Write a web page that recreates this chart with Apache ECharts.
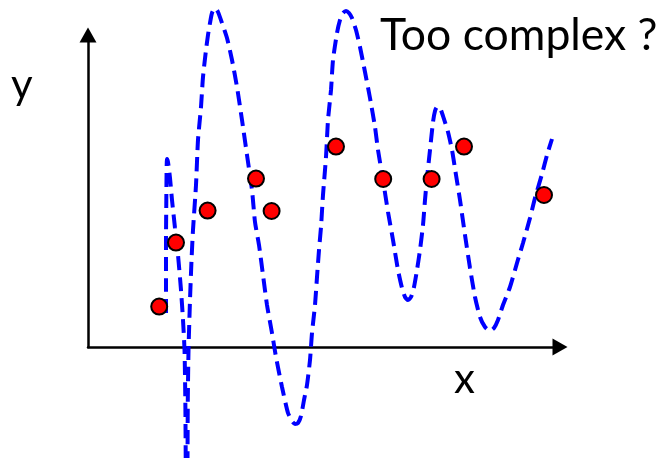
<!DOCTYPE html>
<html>
<head>
<meta charset="utf-8">
<script src="https://cdn.jsdelivr.net/npm/echarts@6/dist/echarts.min.js"></script>
<style>
  html, body { margin: 0; padding: 0; background: #fff; }
  #chart { width: 661px; height: 458px; }
</style>
</head>
<body>
<div id="chart"></div>
<script>
// datos (unidades arbitrarias)
var puntosX = [17.8, 22, 29.9, 42, 45.9, 62, 73.8, 85.9, 94, 114];
var puntosY = [10.1, 26.1, 34.1, 42.1, 34, 50.1, 42, 42, 50.1, 38];

// curva sobreajustada
var curvaX = [19.5, 19.5, 19.5, 19.58, 19.65, 19.75, 20, 20.5, 21, 21.75, 22.5, 23.25, 23.75, 24.13, 24.33, 24.43, 24.5, 24.65,
  24.8, 24.88, 24.95, 25.13, 25.5, 25.88, 26.25, 27, 27.5, 28.25, 28.75, 29.5, 30, 30.5, 31, 31.75, 32.5, 33.5, 34.75,
  36, 37.25, 38.5, 39.75, 41, 41.75, 42.75, 43.75, 44.75, 46, 47, 48.5, 50, 51, 51.75, 52.5, 53.25, 54, 54.75, 55.5,
  56, 56.75, 57.25, 57.75, 58.25, 58.75, 59.5, 60, 60.75, 61.25, 62.25, 63, 63.75, 64.5, 65.25, 66, 67, 68, 69.25,
  70.5, 71.75, 72.5, 73.75, 75, 76.25, 77.5, 78.5, 79.25, 80, 80.75, 81.5, 82.25, 83, 83.75, 84.25, 84.75, 85.5,
  86.25, 86.75, 87.25, 88, 88.75, 90, 91, 92, 93, 94.25, 95.5, 96.75, 98, 99.25, 100.5, 101.5, 102.5, 103.75, 105.5,
  107.25, 108.75, 110.5, 111.75, 113.5, 114.75, 116];
var curvaY = [8.5, 16.75, 26.75, 36.75, 44.25, 47, 46.25, 42.25, 36.75, 29.75, 23, 14.25, 6.75, -0.75, -13.25, -28.25, -43.25, -53.25,
  -43.25, -28.25, -13.25, -0.75, 11.75, 21.75, 29.25, 40.5, 51.75, 60, 67.5, 74.25, 78, 81, 83.5, 84.75, 83.75, 81, 77.25,
  71.75, 65, 56.75, 48, 39.25, 31.25, 25.5, 18, 10.5, 3.5, -2.5, -10, -16.5, -18.5, -19.25, -19, -17.25, -13.25, -9.5, -3.25,
  3.5, 10.5, 17.5, 24.25, 30, 38, 47.5, 56.75, 64.25, 71.75, 78.5, 81.75, 83.5, 84, 83.5, 82.25, 79.25, 75, 68.75,
  62.25, 55, 49.25, 41.75, 33.75, 26.75, 19.25, 14.75, 12.5, 11.75, 12.5, 15, 19.25, 24.25, 30.5, 36.75, 42.25, 49.25,
  56.25, 59, 60, 59.75, 57.75, 53.75, 49.25, 43, 36.75, 28, 19.75, 12.5, 7.5, 5, 4, 4.75, 6.75, 10.5, 15,
  21, 26, 32.25, 37.25, 43.25, 48, 52];

var titulo = "Too complex ?";
var nombreX = "x";
var nombreY = "y";

var datosPuntos = puntosX.map(function (x, i) { return [x, puntosY[i]]; });
var datosCurva = curvaX.map(function (x, i) { return [x, curvaY[i]]; });

var ejeLinea = {
  show: true,
  onZero: false,
  symbol: ["none", "triangle"],
  symbolSize: [17, 15],
  lineStyle: { color: "#000", width: 2.5 }
};

var fuente = "Lato, 'Open Sans', sans-serif";

echarts.init(document.getElementById("chart")).setOption({
  animation: false,
  backgroundColor: "#fff",
  grid: { left: 88, right: 101, top: 35, bottom: 111 },
  xAxis: {
    type: "value", min: 0, max: 118,
    axisLine: ejeLinea,
    axisTick: { show: false }, axisLabel: { show: false }, splitLine: { show: false }
  },
  yAxis: {
    type: "value", min: 0, max: 78,
    axisLine: ejeLinea,
    axisTick: { show: false }, axisLabel: { show: false }, splitLine: { show: false }
  },
  graphic: [
    { type: "text", left: 380, top: 13, style: { text: titulo, font: "44.5px " + fuente, fill: "#000" } },
    { type: "text", left: 11, top: 64, style: { text: nombreY, font: "42px " + fuente, fill: "#000" } },
    { type: "text", left: 454, top: 358, style: { text: nombreX, font: "42px " + fuente, fill: "#000" } }
  ],
  series: [
    {
      type: "line",
      data: datosCurva,
      showSymbol: false,
      smooth: 0.2,
      clip: false,
      lineStyle: { color: "#0000ff", width: 4, type: [14, 7] },
      z: 2
    },
    {
      type: "scatter",
      data: datosPuntos,
      symbolSize: 16,
      itemStyle: { color: "#ff0000", borderColor: "#000", borderWidth: 2, opacity: 1 },
      z: 3
    }
  ]
});
</script>
</body>
</html>
